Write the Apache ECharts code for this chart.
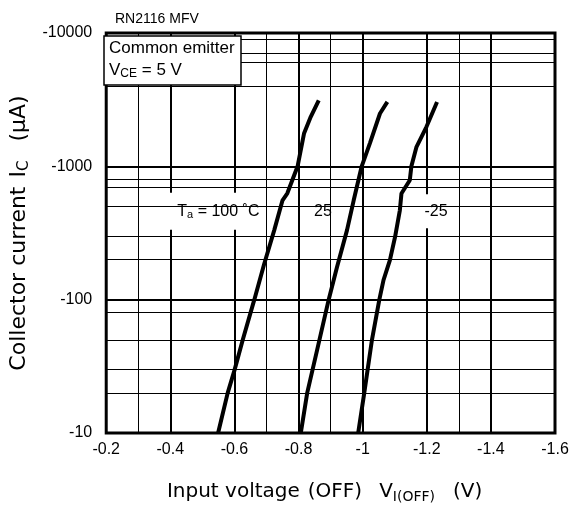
<!DOCTYPE html>
<html><head><meta charset="utf-8">
<script src="https://cdn.jsdelivr.net/npm/echarts@6/dist/echarts.min.js"></script>
<style>html,body{margin:0;padding:0;background:#fff}#c{width:576px;height:515px}</style>
</head><body><div id="c"></div>
<script>
// Input voltage V_I(OFF) (V) and collector current magnitude |I_C| (uA)
const vT100 = [-0.549, -0.579, -0.600, -0.626, -0.662, -0.693, -0.724, -0.750, -0.765, -0.797, -0.817, -0.838, -0.863];
const iT100 = [10, 20, 29.5, 50, 100, 186, 331, 556, 628, 1000, 1760, 2350, 3130];
const vT25 = [-0.807, -0.827, -0.858, -0.894, -0.920, -0.951, -0.972, -0.997, -1.023, -1.054, -1.077];
const iT25 = [10, 20, 42, 100, 176, 331, 556, 1000, 1500, 2490, 3040];
const vTm25 = [-0.986, -1.005, -1.029, -1.052, -1.065, -1.085, -1.101, -1.116, -1.121, -1.147, -1.152, -1.168, -1.199, -1.232];
const iTm25 = [10, 20, 50, 100, 140, 198, 295, 468, 625, 787, 1000, 1400, 1980, 3040];

// minor grid lines as printed
const xMinorLines = [-0.3, -0.7, -0.9, -1.3];
const yMinorLines = [20, 30, 50, 80, 200, 300, 500, 700, 800, 4000, 6000, 7000, 9000];

// curve labels: [x, y, text]
const curveLabels = [
  [-0.55, 460, '{t|T}{s|a}{t| = 100 ˚C}'],
  [-0.876, 460, '{t|25}'],
  [-1.229, 460, '{t|-25}']
];
const labelPads = [[9, 9, 9, 9], [9, 7, 9, 7], [9, 5, 9, 5]];

const FONT = 'Liberation Sans, Arial, sans-serif';
const NAMEFONT = 'DejaVu Sans, sans-serif';
const pair = (xs, ys) => xs.map((x, i) => [x, ys[i]]);

const chart = echarts.init(document.getElementById('c'), null, {renderer: 'canvas'});
const curveStyle = {color: '#000', width: 4};
chart.setOption({
  animation: false,
  backgroundColor: '#fff',
  textStyle: {fontFamily: FONT, color: '#000'},
  title: [
    {text: 'RN2116 MFV', left: 110, top: 7, textStyle: {fontSize: 14, fontWeight: 'normal', color: '#000', fontFamily: FONT}},
    {
      text: '{a|Common emitter}\n{a|V}{b|CE}{a| = 5 V}',
      left: 104, top: 33,
      backgroundColor: '#fff', borderColor: '#000', borderWidth: 1.5,
      padding: [4, 7, 5, 5],
      textStyle: {
        fontWeight: 'normal', fontFamily: FONT,
        rich: {
          a: {fontSize: 17, color: '#000', fontFamily: FONT, lineHeight: 22},
          b: {fontSize: 12, color: '#000', fontFamily: FONT, lineHeight: 22, padding: [8, 0, 0, 0]}
        }
      }
    }
  ],
  grid: {left: 104, right: 21, top: 33, bottom: 82, show: true, borderColor: '#000', borderWidth: 3, backgroundColor: 'transparent'},
  xAxis: {
    type: 'value', inverse: true, min: -1.6, max: -0.2, interval: 0.2,
    axisLine: {show: false}, axisTick: {show: false},
    axisLabel: {fontSize: 16, color: '#000', margin: 9, fontFamily: FONT},
    splitLine: {show: true, lineStyle: {color: '#000', width: 2}},
    name: '{a|Input voltage}{g1|}{a|(OFF)}{g2|}{a|V}{b|I(OFF)}{g3|}{a|(V)}{g4|}',
    nameLocation: 'middle', nameGap: 47,
    nameTextStyle: {rich: {
      a: {fontSize: 20, color: '#000', fontFamily: NAMEFONT},
      b: {fontSize: 14, color: '#000', fontFamily: NAMEFONT, padding: [10, 0, 0, 0]},
      g1: {width: 8}, g2: {width: 17}, g3: {width: 18}, g4: {width: 12}
    }}
  },
  yAxis: {
    type: 'log', logBase: 10, min: 10, max: 10000,
    axisLine: {show: false}, axisTick: {show: false},
    axisLabel: {fontSize: 16, color: '#000', margin: 14, fontFamily: FONT, formatter: v => '-' + v},
    splitLine: {show: true, lineStyle: {color: '#000', width: 2}},
    minorSplitLine: {show: false},
    name: '{a|Collector current}{g1|}{a|I}{b|C}{g2|}{a|(μA)}',
    nameLocation: 'middle', nameGap: 74,
    nameTextStyle: {rich: {
      a: {fontSize: 22, color: '#000', fontFamily: NAMEFONT},
      b: {fontSize: 15, color: '#000', fontFamily: NAMEFONT, padding: [10, 0, 0, 0]},
      g1: {width: 9}, g2: {width: 19}
    }}
  },
  series: [
    {
      type: 'line', name: 'minor', data: [], z: 1, silent: true,
      markLine: {
        silent: true, symbol: ['none', 'none'], label: {show: false}, animation: false,
        lineStyle: {color: '#000', width: 1, type: 'solid'},
        emphasis: {disabled: true},
        data: [...yMinorLines.map(v => ({yAxis: v})), ...xMinorLines.map(v => ({xAxis: v}))]
      }
    },
    {
      type: 'custom', name: 'labels', z: 3, silent: true,
      data: curveLabels.map(d => [d[0], d[1]]),
      encode: {x: 0, y: 1},
      renderItem: (params, api) => {
        const p = api.coord([api.value(0), api.value(1)]);
        const i = params.dataIndex;
        return {
          type: 'text', x: p[0], y: p[1],
          style: {
            text: curveLabels[i][2], align: 'center', verticalAlign: 'middle',
            backgroundColor: '#fff', padding: labelPads[i], fill: '#000',
            rich: {
              t: {fontSize: 16, fill: '#000', fontFamily: FONT},
              s: {fontSize: 11, fill: '#000', fontFamily: FONT, padding: [8, 0, 0, 0]}
            }
          }
        };
      }
    },
    {type: 'line', name: '100', data: pair(vT100, iT100), z: 4, symbol: 'none', lineStyle: curveStyle},
    {type: 'line', name: '25', data: pair(vT25, iT25), z: 4, symbol: 'none', lineStyle: curveStyle},
    {type: 'line', name: '-25', data: pair(vTm25, iTm25), z: 4, symbol: 'none', lineStyle: curveStyle}
  ]
});
</script>
</body></html>
